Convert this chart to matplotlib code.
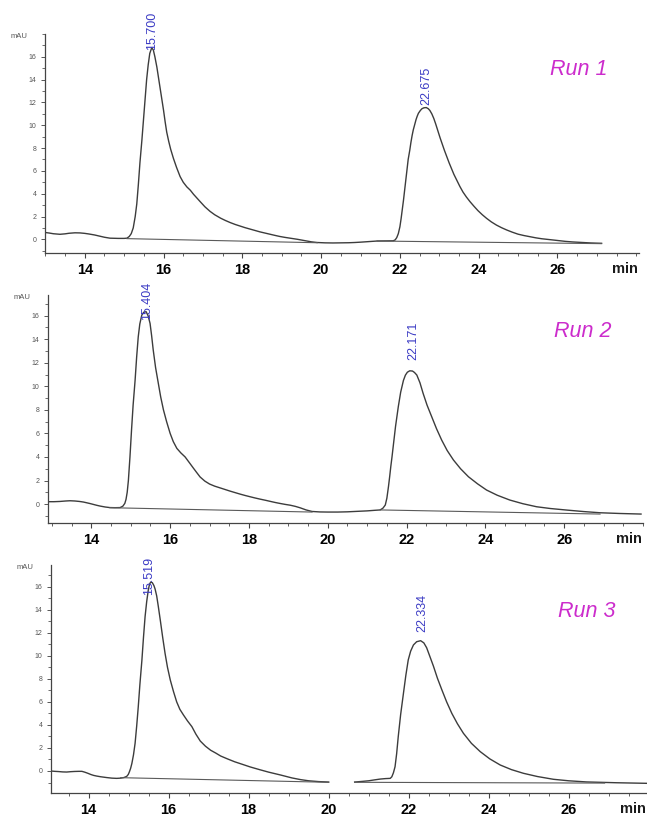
import numpy as np
import matplotlib
matplotlib.use('Agg')
import matplotlib.pyplot as plt
from matplotlib.ticker import MultipleLocator, FixedLocator

plt.rcParams['font.family'] = ['Liberation Sans', 'DejaVu Sans']

# ---------------- data ----------------
run1_time = [12.99, 13.10, 13.20, 13.37, 13.50, 13.60, 13.75, 13.88, 14.00, 14.10, 14.25, 14.39,
             14.50, 14.64, 14.85, 15.00, 15.07, 15.13, 15.18, 15.23, 15.28, 15.32, 15.36, 15.40,
             15.45, 15.49, 15.53, 15.57, 15.61, 15.65, 15.70, 15.74, 15.78, 15.83, 15.87, 15.91,
             15.96, 16.00, 16.04, 16.08, 16.13, 16.18, 16.25, 16.33, 16.42, 16.50, 16.59, 16.68,
             16.76, 16.85, 16.93, 17.05, 17.18, 17.30, 17.45, 17.57, 17.69, 17.82, 17.95, 18.07,
             18.19, 18.32, 18.45, 18.57, 18.70, 18.82, 18.95, 19.08, 19.21, 19.40, 19.59, 19.75,
             19.90, 20.10, 20.30, 20.50, 20.70, 20.85, 21.00, 21.20, 21.42, 21.60, 21.83, 21.88,
             21.92, 21.96, 22.00, 22.03, 22.06, 22.09, 22.12, 22.15, 22.18, 22.21, 22.25, 22.28,
             22.31, 22.34, 22.38, 22.41, 22.44, 22.47, 22.52, 22.56, 22.61, 22.67, 22.72, 22.76,
             22.81, 22.86, 22.91, 22.97, 23.02, 23.08, 23.13, 23.19, 23.25, 23.31, 23.37, 23.44,
             23.52, 23.60, 23.69, 23.78, 23.88, 23.98, 24.09, 24.20, 24.32, 24.45, 24.58, 24.71,
             24.85, 25.00, 25.15, 25.30, 25.45, 25.60, 25.75, 25.89, 26.05, 26.20, 26.38, 26.57,
             26.85, 27.12]
run1_signal = [0.60, 0.55, 0.49, 0.44, 0.48, 0.53, 0.57, 0.56, 0.52, 0.47, 0.38, 0.27,
               0.18, 0.10, 0.08, 0.08, 0.10, 0.25, 0.5, 1.0, 2.0, 3.1, 4.8, 6.7,
               8.7, 10.5, 12.3, 14.0, 15.3, 16.3, 16.8, 16.6, 16.0, 15.1, 14.2, 13.3,
               12.2, 11.3, 10.3, 9.4, 8.6, 7.9, 7.1, 6.3, 5.5, 5.0, 4.6, 4.3,
               3.95, 3.6, 3.3, 2.85, 2.45, 2.15, 1.85, 1.65, 1.47, 1.3, 1.15, 1.02,
               0.9, 0.77, 0.65, 0.55, 0.45, 0.35, 0.25, 0.17, 0.1, 0.0, -0.12, -0.22,
               -0.28, -0.31, -0.32, -0.31, -0.30, -0.28, -0.25, -0.2, -0.15, -0.14, -0.13, -0.05,
               0.15, 0.5, 1.1, 1.8, 2.6, 3.4, 4.3, 5.2, 6.1, 7.0, 7.8, 8.5,
               9.1, 9.6, 10.1, 10.5, 10.8, 11.05, 11.3, 11.45, 11.53, 11.55, 11.45, 11.3,
               11.0, 10.6, 10.1, 9.44, 8.9, 8.3, 7.8, 7.25, 6.7, 6.2, 5.7, 5.2,
               4.65, 4.15, 3.7, 3.3, 2.9, 2.52, 2.16, 1.84, 1.53, 1.25, 1.02, 0.82,
               0.63, 0.45, 0.33, 0.23, 0.13, 0.05, -0.01, -0.06, -0.12, -0.18, -0.23, -0.27,
               -0.32, -0.35]
run1_base_time = [[15.07, 19.90], [21.42, 27.12]]
run1_base_signal = [[0.06, -0.30], [-0.15, -0.38]]
run1_peaks = ['15.700', '22.675']

run2_time = [12.90, 13.05, 13.20, 13.35, 13.46, 13.58, 13.70, 13.80, 13.88, 13.97, 14.05, 14.13,
             14.22, 14.35, 14.47, 14.60, 14.73, 14.80, 14.85, 14.88, 14.91, 14.94, 14.98, 15.02,
             15.06, 15.11, 15.15, 15.19, 15.23, 15.28, 15.33, 15.39, 15.44, 15.49, 15.53, 15.57,
             15.63, 15.70, 15.76, 15.83, 15.91, 16.00, 16.08, 16.17, 16.27, 16.38, 16.48, 16.59,
             16.68, 16.76, 16.88, 17.00, 17.13, 17.27, 17.40, 17.52, 17.65, 17.77, 17.90, 18.03,
             18.15, 18.28, 18.42, 18.55, 18.67, 18.79, 18.92, 19.05, 19.18, 19.30, 19.45, 19.60,
             19.80, 20.00, 20.25, 20.50, 20.75, 21.00, 21.20, 21.33, 21.40, 21.46, 21.50, 21.54,
             21.57, 21.60, 21.63, 21.66, 21.72, 21.79, 21.85, 21.92, 21.97, 22.02, 22.08, 22.15,
             22.20, 22.26, 22.34, 22.42, 22.52, 22.64, 22.76, 22.89, 23.03, 23.19, 23.37, 23.57,
             23.80, 24.03, 24.30, 24.62, 24.95, 25.30, 25.65, 26.06, 26.50, 26.91, 27.40, 27.95]
run2_signal = [0.20, 0.20, 0.22, 0.26, 0.28, 0.26, 0.22, 0.17, 0.11, 0.04, -0.03, -0.10,
               -0.17, -0.25, -0.30, -0.31, -0.30, -0.18, 0.06, 0.4, 1.0, 2.0, 4.0, 6.3,
               8.4, 10.5, 12.5, 14.2, 15.3, 16.05, 16.3, 16.34, 16.0, 15.35, 14.3, 13.1,
               11.6, 10.25, 9.1, 8.0, 7.0, 6.0, 5.3, 4.73, 4.35, 4.0, 3.55, 3.05,
               2.65, 2.3, 1.95, 1.7, 1.52, 1.37, 1.23, 1.1, 0.97, 0.85, 0.73, 0.62,
               0.52, 0.42, 0.32, 0.22, 0.13, 0.05, -0.03, -0.1, -0.2, -0.32, -0.5, -0.63,
               -0.67, -0.68, -0.68, -0.66, -0.62, -0.58, -0.53, -0.50, -0.35, -0.08, 0.5, 1.47,
               2.3, 3.2, 4.0, 4.87, 6.6, 8.27, 9.5, 10.5, 10.95, 11.2, 11.32, 11.3,
               11.18, 10.96, 10.3, 9.4, 8.4, 7.4, 6.4, 5.44, 4.55, 3.74, 3.0, 2.32,
               1.72, 1.19, 0.75, 0.34, 0.03, -0.23, -0.38, -0.51, -0.64, -0.74, -0.80, -0.85]
run2_base_time = [[14.47, 19.60], [21.33, 26.91]]
run2_base_signal = [[-0.31, -0.68], [-0.50, -0.85]]
run2_peaks = ['15.404', '22.171']

run3_time = [13.05, 13.15, 13.25, 13.35, 13.45, 13.55, 13.65, 13.75, 13.83, 13.90, 13.98, 14.05,
             14.12, 14.20, 14.30, 14.45, 14.58, 14.70, 14.80, 14.88, 14.95, 14.99, 15.02, 15.05,
             15.08, 15.12, 15.16, 15.20, 15.24, 15.28, 15.33, 15.37, 15.41, 15.45, 15.49, 15.52,
             15.55, 15.59, 15.63, 15.66, 15.70, 15.74, 15.79, 15.85, 15.91, 15.97, 16.04, 16.12,
             16.20, 16.28, 16.37, 16.47, 16.58, 16.68, 16.79, 16.92, 17.05, 17.18, 17.30, 17.47,
             17.65, 17.85, 18.04, 18.27, 18.50, 18.80, 19.08, 19.30, 19.50, 19.75, 20.00, np.nan,
             20.65, 20.85, 21.00, 21.15, 21.29, 21.42, 21.54, 21.58, 21.62, 21.66, 21.70, 21.74,
             21.80, 21.87, 21.93, 21.99, 22.05, 22.12, 22.20, 22.30, 22.38, 22.45, 22.53, 22.62,
             22.72, 22.83, 22.95, 23.08, 23.22, 23.37, 23.57, 23.79, 24.03, 24.29, 24.57, 24.87,
             25.22, 25.62, 26.00, 26.45, 27.20, 27.95]
run3_signal = [0.0, -0.03, -0.05, -0.08, -0.09, -0.06, -0.04, -0.03, -0.03, -0.1, -0.2, -0.3,
               -0.38, -0.44, -0.50, -0.57, -0.62, -0.64, -0.62, -0.57, -0.47, -0.3, -0.05, 0.25,
               0.66, 1.4, 2.4, 3.9, 5.6, 7.5, 9.6, 11.6, 13.4, 14.7, 15.7, 16.2,
               16.4, 16.35, 16.1, 15.8, 15.2, 14.3, 13.1, 11.6, 10.2, 9.0, 7.9, 6.9,
               6.0, 5.35, 4.86, 4.35, 3.85, 3.2, 2.6, 2.15, 1.8, 1.55, 1.3, 1.05,
               0.8, 0.57, 0.35, 0.12, -0.1, -0.35, -0.6, -0.75, -0.85, -0.92, -0.96, np.nan,
               -0.96, -0.9, -0.85, -0.77, -0.70, -0.66, -0.64, -0.5, -0.15, 0.37, 1.5, 2.98,
               4.9, 6.74, 8.3, 9.64, 10.4, 10.94, 11.22, 11.31, 11.12, 10.7, 9.95, 9.1,
               8.05, 7.05, 6.0, 5.0, 4.1, 3.27, 2.4, 1.68, 1.05, 0.52, 0.12, -0.2,
               -0.48, -0.72, -0.85, -0.95, -1.02, -1.07]
run3_base_time = [[14.80, 20.00], [20.65, 26.90]]
run3_base_signal = [[-0.58, -0.98], [-0.98, -1.05]]
run3_peaks = ['15.519', '22.334']

run_names = ['Run 1', 'Run 2', 'Run 3']
x_ticks = [14, 16, 18, 20, 22, 24, 26]
y_ticks = [0, 2, 4, 6, 8, 10, 12, 14, 16]

# ---------------- layout / style ----------------
W, H = 647, 818
panels = [
    dict(t=run1_time, v=run1_signal, bt=run1_base_time, bv=run1_base_signal, peaks=run1_peaks,
         px=(45, 639, 34, 253), xlim=(12.99, 28.07), ylim=(-1.2, 18.0),
         lab_off=[-1.5, 2.0], run_pos=(0.899, 0.840)),
    dict(t=run2_time, v=run2_signal, bt=run2_base_time, bv=run2_base_signal, peaks=run2_peaks,
         px=(48, 643, 295, 523), xlim=(12.90, 28.0), ylim=(-1.61, 17.76),
         lab_off=[-6.0, 7.7], run_pos=(0.899, 0.838)),
    dict(t=run3_time, v=run3_signal, bt=run3_base_time, bv=run3_base_signal, peaks=run3_peaks,
         px=(50.7, 647, 565, 793), xlim=(13.05, 27.96), ylim=(-1.91, 17.88),
         lab_off=[-9.5, 6.5], run_pos=(0.899, 0.798)),
]

fig = plt.figure(figsize=(W / 100, H / 100), dpi=100)
fig.patch.set_facecolor('white')

for i, p in enumerate(panels):
    l, r, t, b = p['px']
    ax = fig.add_axes([l / W, 1 - b / H, (r - l) / W, (b - t) / H])
    ax.set_facecolor('none')
    tt = np.array(p['t'], dtype=float)
    vv = np.array(p['v'], dtype=float)
    ax.plot(tt, vv, color='#3c3c3c', lw=1.0, solid_joinstyle='round')
    for bt, bv in zip(p['bt'], p['bv']):
        ax.plot(bt, bv, color='#5a5a5a', lw=0.8)
    ax.set_xlim(*p['xlim'])
    ax.set_ylim(*p['ylim'])
    for s in ['top', 'right']:
        ax.spines[s].set_visible(False)
    for s in ['left', 'bottom']:
        ax.spines[s].set_color('#444444')
        ax.spines[s].set_linewidth(0.9)
    ax.xaxis.set_major_locator(FixedLocator(x_ticks))
    ax.xaxis.set_minor_locator(MultipleLocator(0.5))
    ax.yaxis.set_major_locator(FixedLocator(y_ticks))
    ax.yaxis.set_minor_locator(MultipleLocator(1))
    ax.tick_params(axis='x', which='major', direction='out', length=3.5, width=0.8,
                   color='#444444', pad=4, labelsize=10.5)
    ax.tick_params(axis='x', which='minor', direction='out', length=2, width=0.6, color='#444444')
    ax.tick_params(axis='y', which='major', direction='out', length=3, width=0.7,
                   color='#555555', pad=3, labelsize=5, labelcolor='#555555')
    ax.tick_params(axis='y', which='minor', direction='out', length=2, width=0.6, color='#555555')
    for lab in ax.get_xticklabels():
        lab.set_fontweight('bold')
    # axis unit labels
    ax.annotate('mAU', xy=(0, 1), xycoords='axes fraction', xytext=(-18.5, -2),
                textcoords='offset points', ha='center', va='center', fontsize=5.5, color='#555555')
    ax.annotate('min', xy=(1, 0), xycoords='axes fraction', xytext=(-1, -6.5),
                textcoords='offset points', ha='right', va='top', fontsize=10.5,
                fontweight='bold', color='#1a1a1a')
    # peak labels placed at the apex of each peak
    for lab, off in zip(p['peaks'], p['lab_off']):
        rt = float(lab)
        mask = np.abs(tt - rt) < 0.45
        idx = np.nanargmax(np.where(mask, vv, -np.inf))
        ax.annotate(lab, xy=(rt, vv[idx]), xytext=(0, off), textcoords='offset points',
                    rotation=90, ha='center', va='bottom', fontsize=9, color='#3b3bc4',
                    annotation_clip=False)
    ax.text(p['run_pos'][0], p['run_pos'][1], run_names[i], transform=ax.transAxes,
            ha='center', va='center', fontsize=15.5, style='italic', color='#cc2ccc')

fig.savefig('out.png', dpi=100, facecolor='white')
